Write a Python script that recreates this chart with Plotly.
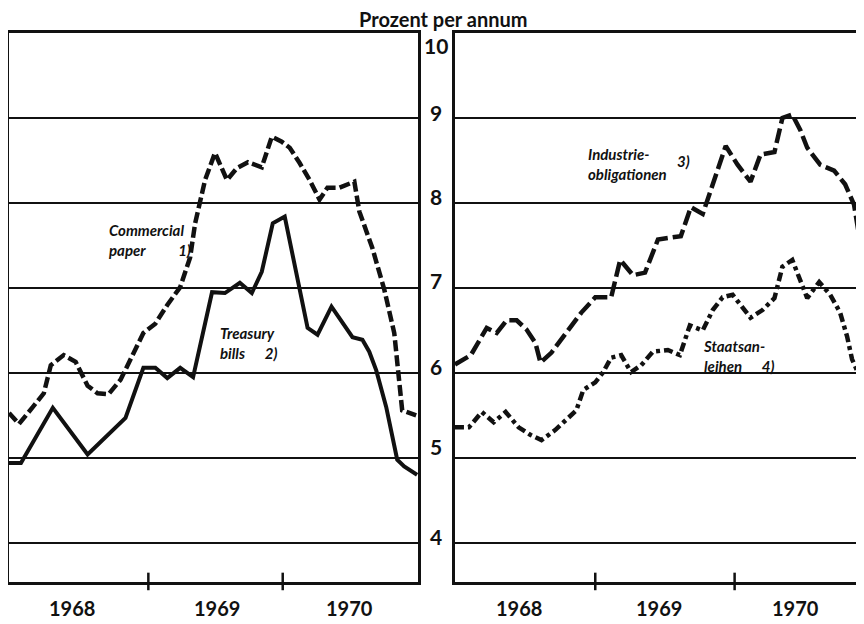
import plotly.graph_objects as go

# ---------------- data (decimal years, percent per annum) ----------------
tb_x = [1967.963, 1968.052, 1968.289, 1968.548, 1968.830, 1968.919, 1968.963, 1969.052,
        1969.141, 1969.237, 1969.333, 1969.474, 1969.570, 1969.681, 1969.770, 1969.844,
        1969.926, 1970.015, 1970.185, 1970.259, 1970.363, 1970.519, 1970.593, 1970.644,
        1970.696, 1970.770, 1970.852, 1970.904, 1971.000]
tb_y = [4.94, 4.94, 5.59, 5.04, 5.47, 5.86, 6.06, 6.06,
        5.94, 6.06, 5.95, 6.95, 6.94, 7.06, 6.94, 7.19,
        7.76, 7.84, 6.53, 6.45, 6.78, 6.42, 6.39, 6.25,
        6.03, 5.60, 4.98, 4.90, 4.80]

cp_x = [1967.963, 1968.037, 1968.141, 1968.222, 1968.274, 1968.370, 1968.459, 1968.548,
        1968.622, 1968.704, 1968.793, 1968.889, 1968.963, 1969.052, 1969.141, 1969.237,
        1969.311, 1969.348, 1969.385, 1969.422, 1969.496, 1969.585, 1969.659, 1969.741,
        1969.844, 1969.919, 1969.993, 1970.052, 1970.126, 1970.200, 1970.274, 1970.333,
        1970.422, 1970.533, 1970.570, 1970.667, 1970.756, 1970.830, 1970.889, 1970.993]
cp_y = [5.53, 5.40, 5.60, 5.76, 6.09, 6.21, 6.13, 5.85,
        5.76, 5.75, 5.92, 6.22, 6.47, 6.58, 6.80, 7.01,
        7.36, 7.76, 8.04, 8.27, 8.59, 8.27, 8.41, 8.48,
        8.42, 8.78, 8.72, 8.65, 8.47, 8.27, 8.04, 8.18,
        8.18, 8.25, 7.90, 7.47, 6.98, 6.47, 5.56, 5.50]

io_x = [1967.993, 1968.107, 1968.150, 1968.221, 1968.293, 1968.364, 1968.436, 1968.507,
        1968.571, 1968.607, 1968.686, 1968.786, 1968.900, 1969.000, 1969.114, 1969.179,
        1969.271, 1969.357, 1969.450, 1969.614, 1969.686, 1969.771, 1969.857, 1969.936,
        1970.021, 1970.114, 1970.186, 1970.286, 1970.343, 1970.414, 1970.471, 1970.521,
        1970.614, 1970.714, 1970.793, 1970.857, 1970.900]
io_y = [6.10, 6.21, 6.33, 6.53, 6.47, 6.62, 6.62, 6.51,
        6.35, 6.12, 6.24, 6.47, 6.71, 6.89, 6.89, 7.33,
        7.15, 7.18, 7.57, 7.61, 7.95, 7.87, 8.27, 8.67,
        8.45, 8.25, 8.57, 8.60, 9.00, 9.04, 8.86, 8.65,
        8.45, 8.38, 8.22, 7.98, 7.55]

sa_x = [1967.993, 1968.093, 1968.186, 1968.271, 1968.357, 1968.450, 1968.536, 1968.614,
        1968.714, 1968.807, 1968.864, 1968.914, 1969.000, 1969.057, 1969.114, 1969.186,
        1969.257, 1969.329, 1969.414, 1969.521, 1969.607, 1969.679, 1969.771, 1969.843,
        1969.914, 1969.986, 1970.043, 1970.114, 1970.200, 1970.286, 1970.343, 1970.414,
        1970.471, 1970.521, 1970.607, 1970.686, 1970.757, 1970.807, 1970.843, 1970.900]
sa_y = [5.36, 5.36, 5.54, 5.42, 5.54, 5.36, 5.27, 5.21,
        5.33, 5.47, 5.56, 5.80, 5.89, 6.01, 6.18, 6.21,
        6.01, 6.09, 6.25, 6.27, 6.21, 6.56, 6.50, 6.74,
        6.89, 6.92, 6.80, 6.65, 6.74, 6.88, 7.25, 7.33,
        7.09, 6.88, 7.07, 6.92, 6.71, 6.43, 6.16, 5.95]

y_ticks = [10, 9, 8, 7, 6, 5, 4]
year_labels = ["1968", "1969", "1970"]
year_bounds = [1969, 1970]
title_text = "Prozent per annum"

# ---------------- layout helpers (page has an 8px body margin) ----------------
OFF = 8
W, H = 864 - OFF, 624 - OFF


def px(wx):
    return (wx - OFF) / W


def py(wy):
    return 1 - (wy - OFF) / H


BLACK = "#111111"
fig = go.Figure()

fig.add_trace(go.Scatter(x=cp_x, y=cp_y, mode="lines", xaxis="x", yaxis="y",
                         line=dict(color=BLACK, width=4.5, dash="11px,4px"), showlegend=False))
fig.add_trace(go.Scatter(x=tb_x, y=tb_y, mode="lines", xaxis="x", yaxis="y",
                         line=dict(color=BLACK, width=4), showlegend=False))
fig.add_trace(go.Scatter(x=io_x, y=io_y, mode="lines", xaxis="x2", yaxis="y2",
                         line=dict(color=BLACK, width=4.5, dash="15px,5px"), showlegend=False))
fig.add_trace(go.Scatter(x=sa_x, y=sa_y, mode="lines", xaxis="x2", yaxis="y2",
                         line=dict(color=BLACK, width=4.5, dash="9px,4px,4px,4px"), showlegend=False))

yr = [3.54, 10.0]
ydom = [py(582), py(33)]
common_y = dict(range=yr, showgrid=False, zeroline=False, showticklabels=False,
                ticks="", showline=True, linecolor=BLACK, linewidth=3, mirror=True)
common_x = dict(showgrid=False, zeroline=False, showticklabels=False, ticks="",
                showline=True, linecolor=BLACK, linewidth=3, mirror=True)

fig.update_layout(
    width=W, height=H, margin=dict(l=0, r=0, t=0, b=0),
    paper_bgcolor="white", plot_bgcolor="white",
    xaxis=dict(domain=[px(9), px(419)], range=[1967.963, 1971.007], **common_x),
    yaxis=dict(domain=ydom, **common_y),
    xaxis2=dict(domain=[px(456), px(863)], range=[1967.993, 1970.907], anchor="y2", **common_x),
    yaxis2=dict(domain=ydom, anchor="x2", **common_y),
)

# horizontal grid lines
for v in y_ticks[1:]:
    for xr, yref in (("x domain", "y"), ("x2 domain", "y2")):
        fig.add_shape(type="line", xref=xr, yref=yref, x0=0, x1=1, y0=v, y1=v,
                      line=dict(color=BLACK, width=2), layer="below")

# year boundary ticks crossing the bottom axis
for xb in year_bounds:
    for xref, yref in (("x", "y domain"), ("x2", "y2 domain")):
        fig.add_shape(type="line", xref=xref, yref=yref, x0=xb, x1=xb, y0=-0.015, y1=0.017,
                      line=dict(color=BLACK, width=2.5))

# y tick labels between the panels
shift = {10: -12, 9: 5, 8: 6, 7: 7, 6: 6, 5: 11, 4: 6}
for v in y_ticks:
    fig.add_annotation(x=px(437), xref="paper", y=v, yref="y", yshift=shift[v],
                       text=str(v), showarrow=False,
                       font=dict(family="Lato", size=21, color=BLACK, weight="bold"))

# year labels
left_year_pos = [1968.43, 1969.51, 1970.50]
right_year_pos = [1968.45, 1969.46, 1970.44]
for lbl, xl, xr2 in zip(year_labels, left_year_pos, right_year_pos):
    fig.add_annotation(x=xl, xref="x", y=3.54, yref="y", yshift=-26, text=lbl, showarrow=False,
                       font=dict(family="Lato", size=20, color=BLACK, weight="bold"))
    fig.add_annotation(x=xr2, xref="x2", y=3.54, yref="y2", yshift=-26, text=lbl, showarrow=False,
                       font=dict(family="Lato", size=20, color=BLACK, weight="bold"))

# title
fig.add_annotation(x=px(445), xref="paper", y=1.0, yref="paper", yanchor="top", yshift=3,
                   text=title_text, showarrow=False,
                   font=dict(family="Lato", size=20, color=BLACK, weight="bold"))

# series labels
lab_font = dict(family="Lato", size=15, color=BLACK, style="italic", weight="bold")
fig.add_annotation(x=1968.696, xref="x", y=7.56, yref="y", xanchor="left", align="left",
                   text="Commercial<br>paper          1)", showarrow=False, font=lab_font)
fig.add_annotation(x=1969.519, xref="x", y=6.35, yref="y", xanchor="left", align="left",
                   text="Treasury<br>bills      2)", showarrow=False, font=lab_font)
fig.add_annotation(x=1968.936, xref="x2", y=8.46, yref="y2", xanchor="left", align="left",
                   text="Industrie-<br>obligationen", showarrow=False, font=lab_font)
fig.add_annotation(x=1969.636, xref="x2", y=8.49, yref="y2", xanchor="center",
                   text="3)", showarrow=False, font=lab_font)
fig.add_annotation(x=1969.757, xref="x2", y=6.20, yref="y2", xanchor="left", align="left",
                   text="Staatsan-<br>leihen      4)", showarrow=False, font=lab_font)

fig.write_html("out.html")
